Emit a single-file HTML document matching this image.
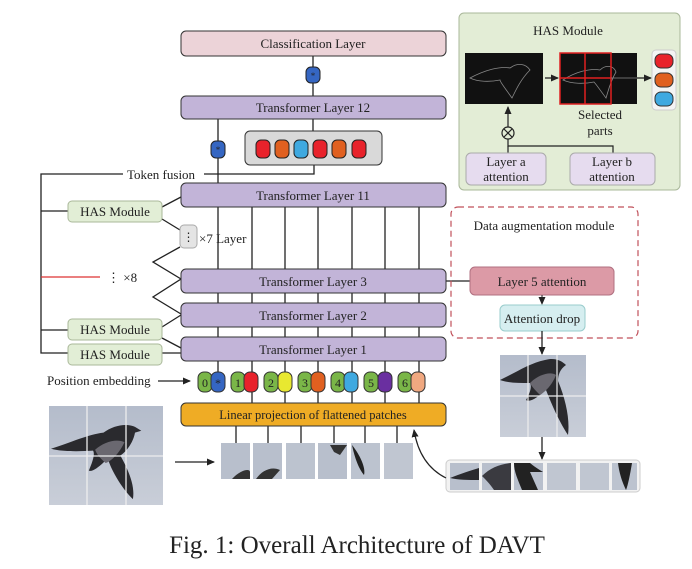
<!DOCTYPE html>
<html><head><meta charset="utf-8"><style>
html,body{margin:0;padding:0;background:#fff;}
svg{display:block;}
text{font-family:"Liberation Serif",serif;fill:#222;}
</style></head><body>
<svg width="692" height="569" viewBox="0 0 692 569" xmlns="http://www.w3.org/2000/svg">
<defs>
<marker id="ar" markerWidth="8" markerHeight="8" refX="7" refY="4" orient="auto" markerUnits="userSpaceOnUse"><path d="M0,0.5 L8,4 L0,7.5z" fill="#222"/></marker>
<linearGradient id="sky" x1="0" y1="0" x2="0" y2="1"><stop offset="0" stop-color="#b4bccb"/><stop offset="1" stop-color="#c9ced8"/></linearGradient>
<g id="bird"><path d="M0,45 C20,38 35,30 50,28 C60,20 72,18 80,22 L86,26 L80,28 C78,40 70,50 66,52 C75,70 80,85 78,98 C70,90 58,70 54,55 C48,62 40,70 36,68 C40,58 42,50 40,47 C25,48 10,48 0,45z" fill="#2a2a2e"/><path d="M42,46 C50,38 62,34 70,38 C66,48 58,58 52,60 C48,56 44,52 42,46z" fill="#6a6870"/></g>
</defs>

<!-- left bracket lines -->
<g stroke="#222" stroke-width="1.3" fill="none">
<path d="M123,174 H41 V353 H68"/>
<line x1="41" y1="211" x2="68" y2="211"/>
<line x1="41" y1="330" x2="68" y2="330"/>
<path d="M204,174 H314 V165"/>
<line x1="313" y1="56" x2="313" y2="96"/>
<line x1="313" y1="119" x2="313" y2="131"/>
<line x1="218" y1="119" x2="218" y2="183"/>
<!-- vertical lines between layers -->
<g>
<line x1="218" y1="207" x2="218" y2="269"/><line x1="252" y1="207" x2="252" y2="269"/><line x1="285" y1="207" x2="285" y2="269"/><line x1="318" y1="207" x2="318" y2="269"/><line x1="352" y1="207" x2="352" y2="269"/><line x1="385" y1="207" x2="385" y2="269"/><line x1="419" y1="207" x2="419" y2="269"/>
<line x1="218" y1="293" x2="218" y2="303"/><line x1="252" y1="293" x2="252" y2="303"/><line x1="285" y1="293" x2="285" y2="303"/><line x1="318" y1="293" x2="318" y2="303"/><line x1="352" y1="293" x2="352" y2="303"/><line x1="385" y1="293" x2="385" y2="303"/><line x1="419" y1="293" x2="419" y2="303"/>
<line x1="218" y1="327" x2="218" y2="337"/><line x1="252" y1="327" x2="252" y2="337"/><line x1="285" y1="327" x2="285" y2="337"/><line x1="318" y1="327" x2="318" y2="337"/><line x1="352" y1="327" x2="352" y2="337"/><line x1="385" y1="327" x2="385" y2="337"/><line x1="419" y1="327" x2="419" y2="337"/>
<line x1="218" y1="361" x2="218" y2="372"/><line x1="252" y1="361" x2="252" y2="372"/><line x1="285" y1="361" x2="285" y2="372"/><line x1="318" y1="361" x2="318" y2="372"/><line x1="352" y1="361" x2="352" y2="372"/><line x1="385" y1="361" x2="385" y2="372"/><line x1="419" y1="361" x2="419" y2="372"/>
<line x1="252" y1="392" x2="252" y2="403"/><line x1="285" y1="392" x2="285" y2="403"/><line x1="318" y1="392" x2="318" y2="403"/><line x1="352" y1="392" x2="352" y2="403"/><line x1="385" y1="392" x2="385" y2="403"/><line x1="419" y1="392" x2="419" y2="403"/>
<line x1="236" y1="426" x2="236" y2="443"/><line x1="268" y1="426" x2="268" y2="443"/><line x1="301" y1="426" x2="301" y2="443"/><line x1="334" y1="426" x2="334" y2="443"/><line x1="365" y1="426" x2="365" y2="443"/><line x1="397" y1="426" x2="397" y2="443"/>
</g>
<!-- diagonal connectors -->
<path d="M162,207 L181,197"/><path d="M162,219 L180,230"/>
<path d="M180,247 L153,262 L181,279 L153,297 L181,314"/>
<path d="M162,327 L181,315"/><path d="M162,338 L181,348"/>
<line x1="162" y1="353" x2="181" y2="353"/>
<line x1="446" y1="281" x2="470" y2="281"/>
</g>
<line x1="41" y1="277" x2="100" y2="277" stroke="#d33" stroke-width="1.3"/>

<!-- boxes -->
<g stroke="#333" stroke-width="1">
<rect x="181" y="31" width="265" height="25" rx="5" fill="#ecd3d8"/>
<rect x="181" y="96" width="265" height="23" rx="5" fill="#c2b4d8"/>
<rect x="181" y="183" width="265" height="24" rx="5" fill="#c2b4d8"/>
<rect x="181" y="269" width="265" height="24" rx="5" fill="#c2b4d8"/>
<rect x="181" y="303" width="265" height="24" rx="5" fill="#c2b4d8"/>
<rect x="181" y="337" width="265" height="24" rx="5" fill="#c2b4d8"/>
<rect x="181" y="403" width="265" height="23" rx="5" fill="#efac25"/>
<rect x="245" y="131" width="137" height="34" rx="5" fill="#d9d9d9"/>
</g>
<g fill="#e2eed6" stroke="#aab89a" stroke-width="1">
<rect x="68" y="201" width="94" height="21" rx="4"/>
<rect x="68" y="319" width="94" height="21" rx="4"/>
<rect x="68" y="344" width="94" height="21" rx="4"/>
</g>
<rect x="180" y="225" width="17" height="23" rx="4" fill="#e4e4e4" stroke="#aaa"/>
<text x="188.5" y="241" font-size="12" text-anchor="middle" fill="#555">⋮</text>

<g font-size="13" text-anchor="middle">
<text x="313" y="48">Classification Layer</text>
<text x="313" y="112">Transformer Layer 12</text>
<text x="313" y="200">Transformer Layer 11</text>
<text x="313" y="286">Transformer Layer 3</text>
<text x="313" y="320">Transformer Layer 2</text>
<text x="313" y="354">Transformer Layer 1</text>
<text x="313" y="419" font-size="12.5">Linear projection of flattened patches</text>
<text x="115" y="216">HAS Module</text>
<text x="115" y="334">HAS Module</text>
<text x="115" y="359">HAS Module</text>
</g>
<g font-size="13">
<text x="127" y="179">Token fusion</text>
<text x="199" y="243">×7 Layer</text>
<text x="107" y="282">⋮ ×8</text>
<text x="47" y="385">Position embedding</text>
</g>
<line x1="158" y1="381" x2="190" y2="381" stroke="#222" stroke-width="1.3" marker-end="url(#ar)"/>

<!-- cls tokens -->
<g stroke="#222" stroke-width="1">
<rect x="306" y="67" width="14" height="16" rx="5" fill="#3566c2"/>
<rect x="211" y="141" width="14" height="17" rx="5" fill="#3566c2"/>
<rect x="256" y="140" width="14" height="18" rx="5" fill="#e8222b"/>
<rect x="275" y="140" width="14" height="18" rx="5" fill="#e06020"/>
<rect x="294" y="140" width="14" height="18" rx="5" fill="#3fa9e0"/>
<rect x="313" y="140" width="14" height="18" rx="5" fill="#e8222b"/>
<rect x="332" y="140" width="14" height="18" rx="5" fill="#e06020"/>
<rect x="352" y="140" width="14" height="18" rx="5" fill="#e8222b"/>
</g>
<text x="313" y="79" font-size="9" text-anchor="middle" fill="#cde">*</text>
<text x="218" y="153" font-size="9" text-anchor="middle" fill="#cde">*</text>

<!-- position tokens -->
<g stroke="#333" stroke-width="1">
<rect x="198" y="372" width="14" height="20" rx="6" fill="#7ab648"/><rect x="211" y="372" width="14" height="20" rx="6" fill="#3566c2"/>
<rect x="231" y="372" width="14" height="20" rx="6" fill="#7ab648"/><rect x="244" y="372" width="14" height="20" rx="6" fill="#e8222b"/>
<rect x="264" y="372" width="14" height="20" rx="6" fill="#7ab648"/><rect x="278" y="372" width="14" height="20" rx="6" fill="#e8e830"/>
<rect x="298" y="372" width="14" height="20" rx="6" fill="#7ab648"/><rect x="311" y="372" width="14" height="20" rx="6" fill="#e06020"/>
<rect x="331" y="372" width="14" height="20" rx="6" fill="#7ab648"/><rect x="344" y="372" width="14" height="20" rx="6" fill="#3fa9e0"/>
<rect x="364" y="372" width="14" height="20" rx="6" fill="#7ab648"/><rect x="378" y="372" width="14" height="20" rx="6" fill="#6a2fa0"/>
<rect x="398" y="372" width="14" height="20" rx="6" fill="#7ab648"/><rect x="411" y="372" width="14" height="20" rx="6" fill="#f0a880"/>
</g>
<g font-size="12" fill="#fff" text-anchor="middle">
<text x="205" y="387" fill="#eef">0</text><text x="218" y="387" fill="#dde">*</text>
<text x="238" y="387" fill="#eef">1</text><text x="271" y="387" fill="#eef">2</text>
<text x="305" y="387" fill="#eef">3</text><text x="338" y="387" fill="#eef">4</text>
<text x="371" y="387" fill="#eef">5</text><text x="405" y="387" fill="#eef">6</text>
</g>

<!-- left bird image -->
<svg x="49" y="406" width="114" height="99" viewBox="0 0 114 99">
<rect width="114" height="99" fill="url(#sky)"/>
<use href="#bird" transform="translate(2,0) scale(1.05,0.95)"/>
<g stroke="#eee" stroke-width="1.3"><line x1="38" y1="0" x2="38" y2="99"/><line x1="77" y1="0" x2="77" y2="99"/><line x1="0" y1="50" x2="114" y2="50"/></g>
</svg>
<line x1="175" y1="462" x2="214" y2="462" stroke="#222" stroke-width="1.3" marker-end="url(#ar)"/>
<!-- patch row -->
<g>
<rect x="221" y="443" width="29" height="36" fill="#b8bfcc"/><rect x="253" y="443" width="29" height="36" fill="#b8bfcc"/>
<rect x="286" y="443" width="29" height="36" fill="#bcc3cf"/><rect x="318" y="443" width="29" height="36" fill="#b8bfcc"/>
<rect x="351" y="443" width="29" height="36" fill="#bcc3cf"/><rect x="384" y="443" width="29" height="36" fill="#c0c6d1"/>
<path d="M232,479 C240,470 250,468 250,472 L250,479z" fill="#333"/>
<path d="M256,479 C262,470 272,466 280,470 L272,479z" fill="#333"/>
<path d="M330,445 L347,445 L340,455 L334,452z" fill="#333"/>
<path d="M352,445 C360,455 366,468 364,475 C358,468 354,455 352,445z" fill="#222"/>
</g>

<!-- HAS module right -->
<rect x="459" y="13" width="221" height="177" rx="5" fill="#e3edd6" stroke="#aab89a"/>
<text x="568" y="35" font-size="13" text-anchor="middle">HAS Module</text>
<rect x="465" y="53" width="78" height="51" fill="#111"/>
<path d="M470,78 C485,70 500,66 510,68 C518,62 526,64 530,70 C520,80 515,92 512,98 C505,88 500,82 500,80 C490,82 478,82 470,78z" fill="none" stroke="#888" stroke-width="0.8"/>
<rect x="560" y="53" width="77" height="51" fill="#111"/>
<path d="M563,80 C575,72 590,68 600,70 C606,64 614,66 616,72 C610,82 608,92 606,98 C600,90 596,84 594,82 C584,84 572,84 563,80z" fill="none" stroke="#888" stroke-width="0.8"/>
<g stroke="#e02020" stroke-width="1.5" fill="none"><rect x="560" y="53" width="51" height="51"/><line x1="585" y1="53" x2="585" y2="104"/><line x1="560" y1="78" x2="611" y2="78"/></g>
<line x1="611" y1="78" x2="637" y2="78" stroke="#888" stroke-width="0.8"/>
<line x1="545" y1="78" x2="558" y2="78" stroke="#222" stroke-width="1.3" marker-end="url(#ar)"/>
<line x1="637" y1="78" x2="651" y2="78" stroke="#222" stroke-width="1.3" marker-end="url(#ar)"/>
<rect x="652" y="50" width="24" height="60" rx="4" fill="#f4f4f4" stroke="#ccc"/>
<g stroke="#333"><rect x="655" y="54" width="18" height="14" rx="6" fill="#e8222b"/><rect x="655" y="73" width="18" height="14" rx="6" fill="#e06020"/><rect x="655" y="92" width="18" height="14" rx="6" fill="#3fa9e0"/></g>
<text x="600" y="119" font-size="13" text-anchor="middle">Selected</text>
<text x="600" y="135" font-size="13" text-anchor="middle">parts</text>
<g stroke="#222" stroke-width="1.2" fill="none">
<line x1="508" y1="127" x2="508" y2="107" marker-end="url(#ar)"/>
<circle cx="508" cy="133" r="6"/><path d="M504,129 L512,137 M512,129 L504,137"/>
<path d="M508,139 V146 H613 V153"/><line x1="508" y1="146" x2="508" y2="153"/>
</g>
<g fill="#e6dcef" stroke="#aaa"><rect x="466" y="153" width="80" height="32" rx="5"/><rect x="570" y="153" width="85" height="32" rx="5"/></g>
<g font-size="13" text-anchor="middle"><text x="506" y="166">Layer a</text><text x="506" y="181">attention</text><text x="612" y="166">Layer b</text><text x="612" y="181">attention</text></g>

<!-- data augmentation -->
<rect x="451" y="207" width="187" height="131" rx="7" fill="none" stroke="#c0505a" stroke-width="1.2" stroke-dasharray="6,4"/>
<text x="544" y="230" font-size="13" text-anchor="middle">Data augmentation module</text>
<rect x="470" y="267" width="144" height="28" rx="5" fill="#dc9aa6" stroke="#b07080"/>
<text x="542" y="286" font-size="13" text-anchor="middle">Layer 5 attention</text>
<line x1="542" y1="295" x2="542" y2="304" stroke="#222" marker-end="url(#ar)"/>
<rect x="500" y="305" width="85" height="26" rx="5" fill="#d6eef0" stroke="#9cc"/>
<text x="542" y="323" font-size="13" text-anchor="middle">Attention drop</text>
<line x1="542" y1="331" x2="542" y2="354" stroke="#222" stroke-width="1.3" marker-end="url(#ar)"/>
<svg x="500" y="355" width="86" height="82" viewBox="0 0 86 82">
<rect width="86" height="82" fill="url(#sky)"/>
<path d="M0,25 C15,18 30,8 45,5 C55,2 62,6 66,10 C60,14 58,20 58,26 C66,45 70,65 68,80 C58,65 50,45 46,35 C38,42 30,48 26,45 C30,38 32,32 30,28 C18,28 8,28 0,25z" fill="#2a2a2e"/>
<path d="M30,28 C38,20 50,16 56,20 C52,30 46,36 40,40 C36,36 32,32 30,28z" fill="#6a6870"/>
<g stroke="#eee" stroke-width="1.2"><line x1="28" y1="0" x2="28" y2="82"/><line x1="57" y1="0" x2="57" y2="82"/><line x1="0" y1="41" x2="86" y2="41"/></g>
</svg>
<line x1="542" y1="437" x2="542" y2="459" stroke="#222" stroke-width="1.3" marker-end="url(#ar)"/>
<rect x="446" y="460" width="194" height="32" rx="4" fill="#f2f2f2" stroke="#ccc"/>
<g>
<rect x="450" y="463" width="29" height="27" fill="#b8bfcc"/><rect x="482" y="463" width="29" height="27" fill="#b8bfcc"/>
<rect x="514" y="463" width="29" height="27" fill="#b8bfcc"/><rect x="547" y="463" width="29" height="27" fill="#c0c6d1"/>
<rect x="580" y="463" width="29" height="27" fill="#c0c6d1"/><rect x="612" y="463" width="25" height="27" fill="#bcc3cf"/>
<path d="M450,478 C460,474 472,470 479,468 L479,480 C468,480 458,480 450,478z" fill="#2a2a2e"/>
<path d="M482,476 C490,468 500,464 511,463 L511,490 L494,490 C490,484 486,480 482,476z" fill="#3a3a40"/>
<path d="M514,463 L530,463 C536,468 540,470 543,472 L530,472 L538,490 L522,490 C518,480 514,472 514,463z" fill="#222"/>
<path d="M618,463 L632,463 C630,475 628,485 626,490 C622,482 619,472 618,463z" fill="#222"/>
</g>
<path d="M446,478 C430,470 418,455 414,430" stroke="#222" stroke-width="1.2" fill="none" marker-end="url(#ar)"/>

<text x="357" y="553" font-size="25" text-anchor="middle" fill="#111">Fig. 1: Overall Architecture of DAVT</text>
</svg>
</body></html>
